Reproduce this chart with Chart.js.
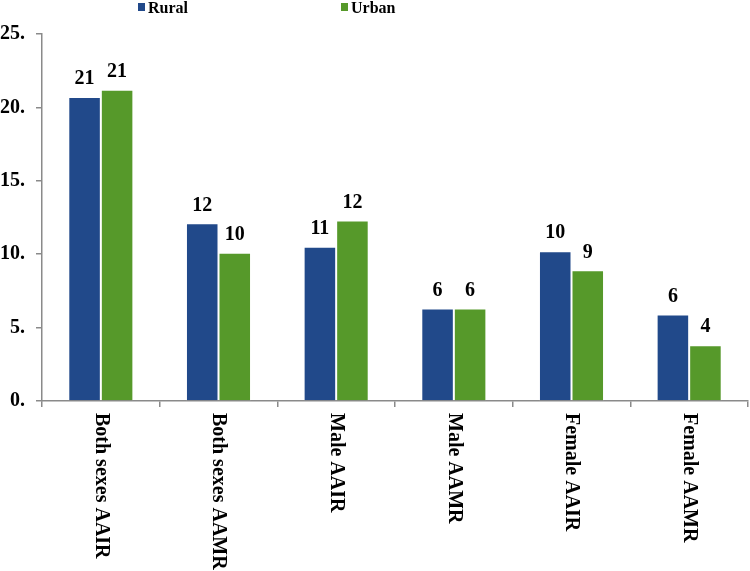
<!DOCTYPE html>
<html lang="en">
<head>
  <meta charset="UTF-8">
  <title>Rural vs Urban AAIR / AAMR</title>
  <script src="https://cdn.jsdelivr.net/npm/chart.js@4.4.0/dist/chart.umd.min.js"></script>
  <style>
    body { margin: 0; background: #fff; }
    #chart { display: block; }
  </style>
</head>
<body>
  <canvas id="chart" width="750" height="571"></canvas>
  <script>
    // data
    const categories = ['Both sexes AAIR', 'Both sexes AAMR', 'Male AAIR', 'Male AAMR', 'Female AAIR', 'Female AAMR'];
    const rural = [20.7, 12.1, 10.5, 6.3, 10.2, 5.9];
    const urban = [21.2, 10.1, 12.3, 6.3, 8.9, 3.8];
    const ruralLabels = ['21', '12', '11', '6', '10', '6'];
    const urbanLabels = ['21', '10', '12', '6', '9', '4'];
    const yTicks = [0, 5, 10, 15, 20, 25];

    const serif = "'Liberation Serif', 'Times New Roman', serif";
    const blue = '#21498a';
    const green = '#56992a';
    const axisGrey = '#8a8a8a';

    // value labels above each bar
    const valueLabels = {
      id: 'valueLabels',
      afterDatasetsDraw(chart) {
        const ctx = chart.ctx;
        const texts = [ruralLabels, urbanLabels];
        ctx.save();
        ctx.font = 'bold 20px ' + serif;
        ctx.fillStyle = '#000';
        ctx.textAlign = 'center';
        ctx.textBaseline = 'bottom';
        chart.data.datasets.forEach((ds, di) => {
          chart.getDatasetMeta(di).data.forEach((bar, i) => {
            ctx.fillText(texts[di][i], bar.x, bar.y - 8);
          });
        });
        ctx.restore();
      }
    };

    // category names, rotated to read top to bottom
    const catLabels = {
      id: 'catLabels',
      afterDraw(chart) {
        const ctx = chart.ctx;
        const xs = chart.scales.x;
        ctx.save();
        ctx.font = 'bold 20px ' + serif;
        ctx.fillStyle = '#000';
        ctx.textAlign = 'left';
        ctx.textBaseline = 'middle';
        categories.forEach((c, i) => {
          ctx.save();
          ctx.translate(xs.getPixelForValue(i), chart.chartArea.bottom + 12);
          ctx.rotate(Math.PI / 2);
          ctx.fillText(c, 0, 0);
          ctx.restore();
        });
        ctx.restore();
      }
    };

    // legend spread out across the top
    const topLegend = {
      id: 'topLegend',
      afterDraw(chart) {
        const ctx = chart.ctx;
        const left = chart.chartArea.left;
        const items = [[chart.data.datasets[0], left + 96], [chart.data.datasets[1], left + 299]];
        ctx.save();
        ctx.font = 'bold 16px ' + serif;
        ctx.textBaseline = 'alphabetic';
        items.forEach(([ds, x]) => {
          ctx.fillStyle = ds.backgroundColor;
          ctx.fillRect(x, 3, 7, 8);
          ctx.fillStyle = '#000';
          ctx.fillText(ds.label, x + 10, 13);
        });
        ctx.restore();
      }
    };

    new Chart(document.getElementById('chart'), {
      type: 'bar',
      data: {
        labels: categories,
        datasets: [
          { label: 'Rural', data: rural, backgroundColor: blue },
          { label: 'Urban', data: urban, backgroundColor: green }
        ]
      },
      options: {
        responsive: false,
        animation: false,
        events: [],
        layout: { padding: { top: 34, right: 2, left: 0, bottom: 0 } },
        datasets: {
          bar: {
            categoryPercentage: 0.553,
            barPercentage: 1,
            borderColor: '#fff',
            borderWidth: 1
          }
        },
        scales: {
          x: {
            grid: { display: true, drawOnChartArea: false, drawTicks: true, tickLength: 6, color: axisGrey, lineWidth: 1.5 },
            border: { color: axisGrey, width: 1.5 },
            ticks: { display: false },
            afterFit: (s) => { s.height = 170; }
          },
          y: {
            min: 0,
            max: 25,
            afterBuildTicks: (s) => { s.ticks = yTicks.map(v => ({ value: v })); },
            grid: { display: true, drawOnChartArea: false, drawTicks: true, tickLength: 6, color: axisGrey, lineWidth: 1.5 },
            border: { color: axisGrey, width: 1.5 },
            ticks: {
              padding: 11,
              color: '#000',
              font: { family: serif, size: 20, weight: 'bold' },
              callback: (v) => v + '.'
            },
            afterFit: (s) => { s.width = 42; }
          }
        },
        plugins: {
          legend: { display: false },
          tooltip: { enabled: false }
        }
      },
      plugins: [valueLabels, catLabels, topLegend]
    });
  </script>
</body>
</html>
